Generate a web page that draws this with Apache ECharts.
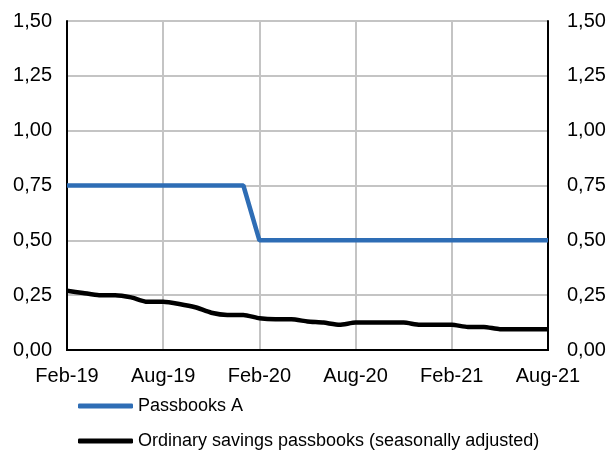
<!DOCTYPE html>
<html>
<head>
<meta charset="utf-8">
<script src="https://cdn.jsdelivr.net/npm/echarts@6/dist/echarts.min.js"></script>
<style>
html,body{margin:0;padding:0;background:#fff;}
#chart{width:611px;height:454px;}
</style>
</head>
<body>
<div id="chart"></div>
<script>
var months = ['Feb-19','Mar-19','Apr-19','May-19','Jun-19','Jul-19','Aug-19','Sep-19','Oct-19','Nov-19','Dec-19','Jan-20',
  'Feb-20','Mar-20','Apr-20','May-20','Jun-20','Jul-20','Aug-20','Sep-20','Oct-20','Nov-20','Dec-20','Jan-21',
  'Feb-21','Mar-21','Apr-21','May-21','Jun-21','Jul-21','Aug-21'];
var passbooksA = [0.75,0.75,0.75,0.75,0.75,0.75,0.75,0.75,0.75,0.75,0.75,0.75,
  0.50,0.50,0.50,0.50,0.50,0.50,0.50,0.50,0.50,0.50,0.50,0.50,
  0.50,0.50,0.50,0.50,0.50,0.50,0.50];
var ordinarySavings = [0.27,0.26,0.25,0.25,0.24,0.22,0.22,0.21,0.195,0.17,0.16,0.16,
  0.145,0.14,0.14,0.13,0.125,0.115,0.125,0.125,0.125,0.125,0.115,0.115,
  0.115,0.105,0.105,0.095,0.095,0.095,0.095];
var seriesNames = ['Passbooks A','Ordinary savings passbooks (seasonally adjusted)'];

var FONT = 'Liberation Sans, Arial, sans-serif';
function fmt(v){ return v.toFixed(2).replace('.', ','); }
function legendFor(name, top){
  return {
    left:73, top:top,
    itemWidth:55, itemHeight:5, itemGap:0,
    icon:'roundRect',
    textStyle:{fontFamily:FONT,fontSize:18,color:'#000'},
    data:[name]
  };
}

var chart = echarts.init(document.getElementById('chart'), null, {renderer:'canvas'});
chart.setOption({
  animation:false,
  backgroundColor:'#ffffff',
  textStyle:{fontFamily:FONT},
  grid:{left:67,right:63,top:21,bottom:104,containLabel:false},
  legend:[legendFor(seriesNames[0], 392), legendFor(seriesNames[1], 427)],
  xAxis:[{
    type:'category',
    data:months,
    boundaryGap:false,
    axisLine:{show:true,lineStyle:{color:'#000',width:2}},
    axisTick:{show:false},
    axisLabel:{interval:5,fontFamily:FONT,fontSize:20,color:'#000',margin:16,showMaxLabel:true},
    splitLine:{show:true,interval:5,lineStyle:{color:'#c4c4c4',width:2}}
  },{
    type:'category',
    data:months,
    position:'top',
    boundaryGap:false,
    axisLine:{show:true,lineStyle:{color:'#000',width:2}},
    axisTick:{show:false},
    axisLabel:{show:false},
    splitLine:{show:false}
  }],
  yAxis:[{
    type:'value',min:0,max:1.5,interval:0.25,
    axisLine:{show:true,lineStyle:{color:'#000',width:2}},
    axisTick:{show:false},
    axisLabel:{formatter:fmt,fontFamily:FONT,fontSize:20,color:'#000',margin:15},
    splitLine:{show:true,lineStyle:{color:'#c4c4c4',width:2}}
  },{
    type:'value',min:0,max:1.5,interval:0.25,position:'right',
    axisLine:{show:true,lineStyle:{color:'#000',width:2}},
    axisTick:{show:false},
    axisLabel:{formatter:fmt,fontFamily:FONT,fontSize:20,color:'#000',margin:19},
    splitLine:{show:false}
  }],
  series:[{
    name:seriesNames[0],
    type:'line',
    data:passbooksA,
    showSymbol:false,
    symbol:'none',
    lineStyle:{color:'#2e6db5',width:4.5},
    itemStyle:{color:'#2e6db5'},
    z:3
  },{
    name:seriesNames[1],
    type:'line',
    data:ordinarySavings,
    showSymbol:false,
    symbol:'none',
    smooth:0.2,
    lineStyle:{color:'#000000',width:4.5},
    itemStyle:{color:'#000000'},
    z:3
  }]
});
</script>
</body>
</html>
